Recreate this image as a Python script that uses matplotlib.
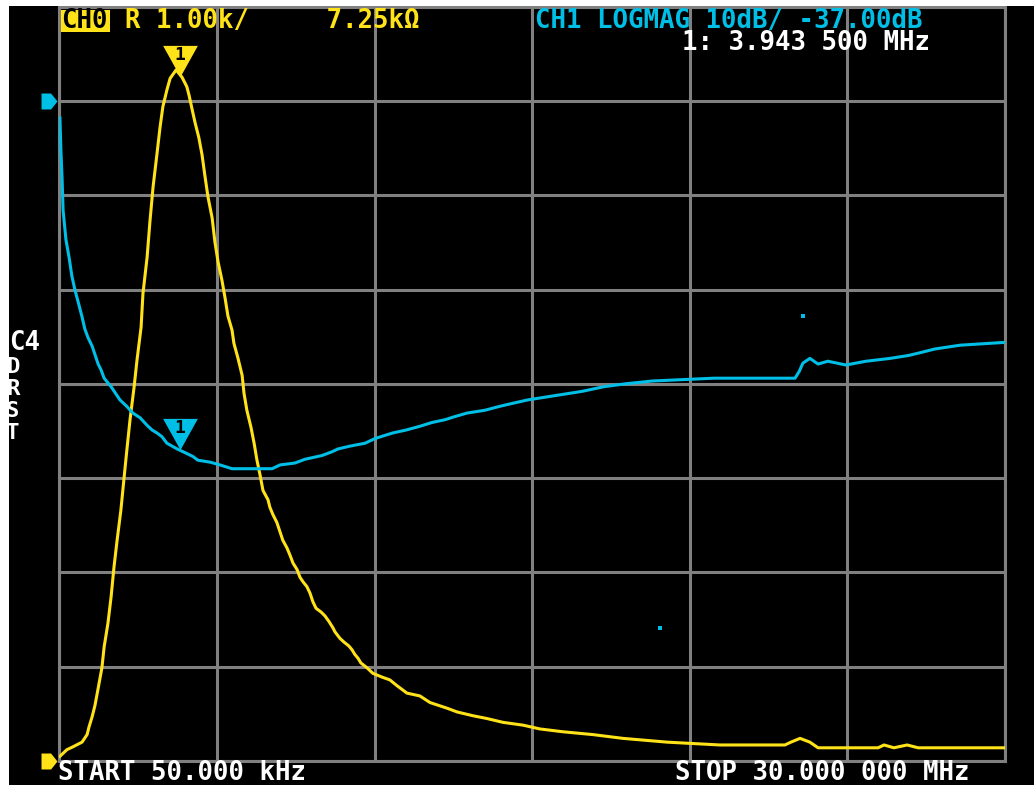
import numpy as np
import matplotlib
matplotlib.use("Agg")
import matplotlib.pyplot as plt
from matplotlib.patches import Rectangle
from matplotlib.transforms import offset_copy, blended_transform_factory

W, H = 1034, 785

# sweep 50 kHz .. 30 MHz (values in MHz)
f_start, f_stop = 0.05, 30.0
marker_f = 3.9435

# CH0: R in kOhm, 1.00k/div, reference (0) on the bottom line
r_freq = [0.07, 0.29, 0.48, 0.77, 0.93, 0.99, 1.09, 1.18, 1.28, 1.40,
          1.47, 1.59, 1.69, 1.78, 1.88, 2.00, 2.10, 2.19, 2.29, 2.42,
          2.51, 2.64, 2.70, 2.83, 2.92, 3.02, 3.14, 3.24, 3.33, 3.46,
          3.56, 3.75, 3.94, 4.09, 4.16, 4.25, 4.35, 4.47, 4.57, 4.66,
          4.76, 4.89, 4.98, 5.08, 5.20, 5.30, 5.39, 5.52, 5.58, 5.71,
          5.84, 5.90, 5.99, 6.12, 6.22, 6.31, 6.41, 6.50, 6.66, 6.72,
          6.82, 6.94, 7.04, 7.13, 7.26, 7.36, 7.45, 7.58, 7.67, 7.77,
          7.89, 7.99, 8.08, 8.18, 8.34, 8.46, 8.59, 8.72, 8.78, 8.94,
          9.07, 9.22, 9.32, 9.41, 9.51, 9.60, 9.79, 9.98, 10.27, 10.52,
          10.74, 11.06, 11.47, 11.79, 12.33, 12.65, 13.15, 13.60, 14.10, 14.74,
          15.27, 16.00, 16.95, 17.90, 19.30, 20.97, 23.03, 23.22, 23.51, 23.82,
          24.08, 25.98, 26.17, 26.48, 26.90, 27.25, 30.00]
r_kohm = [0.05, 0.12, 0.15, 0.20, 0.28, 0.36, 0.47, 0.59, 0.77, 0.99,
          1.21, 1.46, 1.74, 2.05, 2.34, 2.66, 3.00, 3.30, 3.62, 3.97,
          4.25, 4.60, 4.96, 5.34, 5.72, 6.09, 6.43, 6.72, 6.94, 7.12,
          7.24, 7.33, 7.25, 7.15, 7.06, 6.92, 6.77, 6.61, 6.43, 6.21,
          5.98, 5.76, 5.50, 5.29, 5.10, 4.91, 4.72, 4.57, 4.43, 4.27,
          4.09, 3.90, 3.72, 3.54, 3.37, 3.19, 3.03, 2.87, 2.77, 2.69,
          2.61, 2.53, 2.43, 2.34, 2.26, 2.18, 2.10, 2.03, 1.95, 1.90,
          1.85, 1.78, 1.69, 1.62, 1.58, 1.54, 1.48, 1.41, 1.37, 1.30,
          1.26, 1.22, 1.18, 1.13, 1.09, 1.04, 0.99, 0.93, 0.89, 0.86,
          0.80, 0.72, 0.69, 0.62, 0.56, 0.52, 0.48, 0.45, 0.41, 0.38,
          0.34, 0.31, 0.28, 0.24, 0.20, 0.17, 0.17, 0.20, 0.24, 0.20,
          0.14, 0.14, 0.17, 0.14, 0.17, 0.14, 0.14]

# CH1: LOGMAG in dB, 10 dB/div, reference -37 dB on the second line
s_freq = [0.07, 0.10, 0.14, 0.17, 0.26, 0.36, 0.45, 0.55, 0.67, 0.77,
          0.86, 0.96, 1.09, 1.18, 1.28, 1.37, 1.47, 1.69, 1.81, 1.97,
          2.19, 2.38, 2.61, 2.83, 2.99, 3.14, 3.30, 3.46, 3.62, 3.78,
          3.97, 4.28, 4.44, 4.82, 5.14, 5.52, 6.79, 7.04, 7.51, 7.83,
          8.37, 8.69, 8.88, 9.26, 9.73, 10.05, 10.33, 10.62, 11.03, 11.47,
          11.85, 12.27, 12.55, 12.96, 13.53, 13.98, 14.36, 14.89, 15.46, 16.03,
          16.60, 17.30, 17.97, 18.82, 20.78, 23.35, 23.48, 23.60, 23.82, 24.08,
          24.39, 24.96, 25.60, 26.36, 26.93, 27.31, 27.78, 28.58, 30.00]
s_db = [-38.8, -42.2, -45.4, -48.6, -51.7, -53.6, -55.6, -57.1, -58.6, -59.9,
        -61.2, -62.1, -63.0, -63.9, -64.9, -65.5, -66.4, -67.3, -67.9, -68.7,
        -69.4, -70.1, -70.6, -71.4, -71.9, -72.2, -72.6, -73.3, -73.6, -73.9,
        -74.2, -74.7, -75.1, -75.3, -75.6, -76.0, -76.0, -75.6, -75.4, -75.0,
        -74.6, -74.2, -73.9, -73.6, -73.3, -72.8, -72.5, -72.2, -71.9, -71.5,
        -71.1, -70.8, -70.5, -70.1, -69.8, -69.4, -69.1, -68.7, -68.4, -68.1,
        -67.8, -67.3, -67.0, -66.7, -66.4, -66.4, -65.7, -64.8, -64.3, -64.9,
        -64.6, -65.0, -64.6, -64.3, -64.0, -63.7, -63.3, -62.9, -62.6]

# single stray pixels on CH1
spike_freq = [23.60, 19.07]
spike_db = [-59.8, -92.9]

YEL = "#FFE318"
CYA = "#00BFE7"
GRID = "#808080"
MONO = dict(family="DejaVu Sans Mono", fontweight="bold", fontsize=18.5)


def fx(x):
    return x / W


def fy(y):
    return 1 - y / H


fig = plt.figure(figsize=(W / 100, H / 100), dpi=100, facecolor="white")
fig.add_artist(Rectangle((fx(9), 0), 1 - fx(9), fy(6), transform=fig.transFigure,
                         facecolor="black", edgecolor="none", zorder=-5))

ax = fig.add_axes([fx(59.3), fy(761), fx(1005) - fx(59.3), fy(6.7) - fy(761)])
ax.set_facecolor("black")
ax.set_xlim(f_start, f_stop)
ax.set_ylim(0, 8)
ax.set_xticks(np.linspace(f_start, f_stop, 7))
ax.set_yticks(np.arange(0, 9))
ax.grid(True, color=GRID, linewidth=2.2)
ax.tick_params(length=0, labelbottom=False, labelleft=False)
for s in ax.spines.values():
    s.set_color(GRID)
    s.set_linewidth(2.2)

ax2 = ax.twinx()
ax2.set_ylim(-107, -27)
ax2.tick_params(length=0, labelright=False)
for s in ax2.spines.values():
    s.set_visible(False)

ax.plot(r_freq, r_kohm, color=YEL, linewidth=2.2, zorder=3)
ax2.plot(s_freq, s_db, color=CYA, linewidth=2.2, zorder=3)
ax2.plot(spike_freq, spike_db, linestyle="none", marker="s", markersize=2.2,
         color=CYA, markeredgewidth=0)

# marker 1 triangles (tip on the trace)
tri = [(-1, 0.9), (1, 0.9), (0, -0.9)]
for a, fr, vals, col in [(ax, r_freq, r_kohm, YEL), (ax2, s_freq, s_db, CYA)]:
    v = np.interp(marker_f, fr, vals)
    tr = offset_copy(a.transData, fig=fig, x=-2, y=17, units="dots")
    a.plot([marker_f], [v], marker=tri, markersize=25, color=col,
           markeredgewidth=0, transform=tr, clip_on=False, zorder=6)
    tr2 = offset_copy(a.transData, fig=fig, x=-2, y=23, units="dots")
    a.text(marker_f, v, "1", transform=tr2, ha="center", va="center",
           color="black", family="DejaVu Sans Mono", fontweight="bold",
           fontsize=13, zorder=7, clip_on=False)

# reference level markers on the left edge
ref = [(-1, -1), (0.2, -1), (1, 0), (0.2, 1), (-1, 1)]
for a, lvl, col in [(ax, 0, YEL), (ax2, -37, CYA)]:
    bt = blended_transform_factory(a.transAxes, a.transData)
    a.plot([-0.011], [lvl], marker=ref, markersize=11.5, color=col,
           markeredgewidth=0, transform=bt, clip_on=False, zorder=6)

# header / footer texts
fig.add_artist(Rectangle((fx(61), fy(32)), fx(110) - fx(61), fy(10) - fy(32),
                         transform=fig.transFigure, facecolor=YEL, edgecolor="none"))
fig.text(fx(61), fy(28), "CH0", color="black", va="baseline", **MONO)
fig.text(fx(125), fy(28), "R 1.00k/     7.25k\u03a9", color=YEL, va="baseline", **MONO)
fig.text(fx(535), fy(28), "CH1 LOGMAG 10dB/ -37.00dB", color=CYA, va="baseline", **MONO)
fig.text(fx(682), fy(50), "1: 3.943 500 MHz", color="white", va="baseline", **MONO)
fig.text(fx(58), fy(780), "START 50.000 kHz", color="white", va="baseline", **MONO)
fig.text(fx(675), fy(780), "STOP 30.000 000 MHz", color="white", va="baseline", **MONO)

# leftover side menu letters, partly cut by the white edge
fig.text(fx(9), fy(350), "C4", color="white", va="baseline", **MONO)
small = dict(MONO, fontsize=16)
for ch, yb in zip("DRST", [373, 395, 417, 439]):
    fig.text(fx(6), fy(yb), ch, color="white", va="baseline", **small)
fig.add_artist(Rectangle((0, 0), fx(9), 1, transform=fig.transFigure,
                         facecolor="white", edgecolor="none", zorder=20))
fig.add_artist(Rectangle((0, fy(6)), 1, 1 - fy(6), transform=fig.transFigure,
                         facecolor="white", edgecolor="none", zorder=20))

fig.savefig("out.png", dpi=100, facecolor="white")
